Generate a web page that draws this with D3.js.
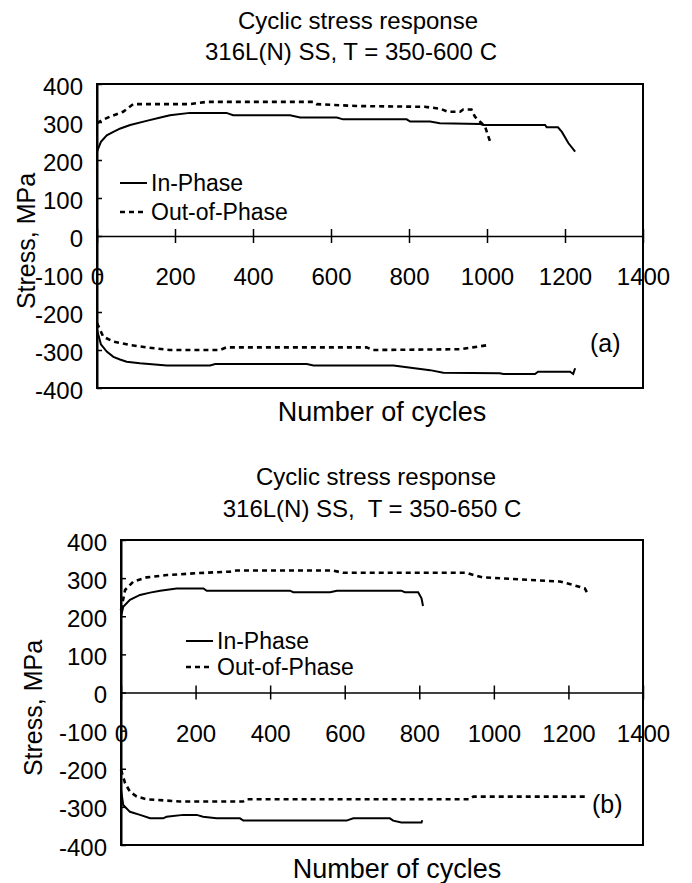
<!DOCTYPE html>
<html>
<head>
<meta charset="utf-8">
<script src="https://cdn.jsdelivr.net/npm/d3@7/dist/d3.min.js"></script>
<style>
  html, body { margin: 0; padding: 0; background: #fff; }
  svg { display: block; font-family: "Liberation Sans", Arial, sans-serif; }
</style>
</head>
<body>
<svg id="chart" width="692" height="883"></svg>
<script>
// ---------- data ----------
const xTicks = [0, 200, 400, 600, 800, 1000, 1200, 1400];
const yTicks = [-400, -300, -200, -100, 0, 100, 200, 300, 400];
const seriesNames = ["In-Phase", "Out-of-Phase"];

// Panel (a): 316L(N) SS, T = 350-600 C   [cycles, stress MPa]
const aInPhaseMax = [[0,222],[10,248],[25,265],[42,274],[60,283],[85,292],[127,303],[160,311],[187,318],[238,324],[332,324],[349,318],[495,318],[521,312],[615,312],[631,307],[794,307],[803,301],[854,301],[879,297],[982,295],[990,292],[1149,292],[1153,286],[1182,286],[1192,274],[1209,244],[1226,222]];
const aOutPhaseMax = [[0,297],[15,306],[33,314],[67,327],[93,347],[238,347],[281,353],[554,353],[563,347],[666,342],[840,340],[880,335],[900,327],[931,327],[939,333],[960,333],[969,314],[995,288],[1008,248]];
const aInPhaseMin = [[0,-247],[10,-285],[25,-304],[42,-318],[59,-325],[76,-331],[110,-335],[179,-341],[290,-341],[303,-337],[538,-337],[555,-341],[760,-341],[854,-353],[888,-360],[1033,-361],[1042,-363],[1123,-363],[1131,-357],[1213,-357],[1221,-363],[1226,-348]];
const aOutPhaseMin = [[0,-229],[16,-265],[42,-278],[85,-287],[127,-293],[187,-300],[315,-300],[332,-293],[691,-293],[707,-300],[931,-298],[964,-293],[1003,-287]];

// Panel (b): 316L(N) SS, T = 350-650 C
const bInPhaseMax = [[0,199],[6,225],[24,243],[51,256],[78,262],[105,267],[149,273],[221,273],[230,267],[453,267],[462,263],[561,263],[579,267],[752,267],[761,263],[797,263],[806,247],[810,227]];
const bOutPhaseMax = [[0,216],[11,269],[33,291],[69,302],[123,308],[204,313],[292,317],[310,320],[568,320],[595,314],[927,314],[945,308],[971,302],[1177,291],[1213,282],[1244,273],[1253,256]];
const bInPhaseMin = [[0,-255],[6,-295],[24,-313],[51,-321],[78,-330],[113,-330],[122,-326],[167,-321],[203,-321],[220,-326],[256,-330],[319,-330],[328,-336],[605,-336],[623,-330],[721,-330],[730,-336],[752,-341],[806,-341],[808,-335]];
const bOutPhaseMin = [[0,-203],[11,-238],[24,-260],[42,-273],[69,-280],[158,-286],[327,-286],[337,-280],[935,-280],[945,-273],[1249,-273],[1253,-270]];

const titleLine1 = "Cyclic stress response";
const titleA = "316L(N) SS, T = 350-600 C";
const titleB = "316L(N) SS,  T = 350-650 C";
const xLabel = "Number of cycles";
const yLabel = "Stress, MPa";

// ---------- drawing ----------
const svg = d3.select("#chart");
const FONT = 24;
const plainFmt = d => String(d);

function panel(cfg) {
  const x = d3.scaleLinear().domain([0, 1400]).range([cfg.left, cfg.right]);
  const y = d3.scaleLinear().domain([-400, 400]).range([cfg.bottom, cfg.top]);
  const g = svg.append("g");

  // titles
  g.append("text").attr("x", cfg.t1x).attr("y", cfg.t1y).attr("text-anchor", "middle")
    .attr("font-size", FONT).text(titleLine1);
  g.append("text").attr("x", cfg.t2x).attr("y", cfg.t2y).attr("text-anchor", "middle")
    .style("white-space", "pre").attr("font-size", FONT).text(cfg.title);

  // frame
  g.append("rect").attr("x", cfg.left).attr("y", cfg.top)
    .attr("width", cfg.right - cfg.left).attr("height", cfg.bottom - cfg.top)
    .attr("fill", "none").attr("stroke", "#000").attr("stroke-width", 2);

  // y axis (inside ticks)
  const ya = g.append("g").attr("transform", `translate(${cfg.left},0)`)
    .call(d3.axisLeft(y).tickValues(yTicks).tickFormat(plainFmt)
      .tickSizeInner(-5).tickSizeOuter(0).tickPadding(14));
  ya.select(".domain").attr("stroke-width", 2);
  ya.selectAll(".tick line").attr("stroke-width", 1.5);
  ya.selectAll(".tick text").attr("font-size", FONT).attr("font-family", "Liberation Sans, Arial, sans-serif")
    .attr("fill", "#000").attr("dy", "0.42em");

  // x axis along zero (cross ticks)
  const xa = g.append("g").attr("transform", `translate(0,${y(0)})`)
    .call(d3.axisBottom(x).tickValues(xTicks).tickFormat(plainFmt).tickSizeInner(7).tickSizeOuter(0));
  xa.select(".domain").attr("stroke-width", 1.5);
  xa.selectAll(".tick line").attr("y1", -7).attr("y2", 7).attr("stroke-width", 1.5);
  xa.selectAll(".tick text").attr("font-size", FONT).attr("font-family", "Liberation Sans, Arial, sans-serif")
    .attr("fill", "#000").attr("y", 49).attr("dy", 0);

  // axis titles
  g.append("text").attr("x", cfg.xlx).attr("y", cfg.xly).attr("text-anchor", "middle")
    .attr("font-size", 27).text(xLabel);
  g.append("text").attr("transform", `translate(${cfg.ylx},${cfg.yly}) rotate(-90)`)
    .attr("text-anchor", "middle").attr("dy", "0.35em").attr("font-size", 25).text(yLabel);

  // lines
  const line = d3.line().x(d => x(d[0])).y(d => y(d[1]));
  const styles = {
    solid: { dash: null, w: 2 },
    dashed: { dash: "5,4", w: 2.6 }
  };
  cfg.series.forEach(s => {
    const st = styles[s.style];
    g.append("path").datum(s.data).attr("d", line)
      .attr("fill", "none").attr("stroke", "#000").attr("stroke-width", st.w)
      .attr("stroke-dasharray", st.dash);
  });

  // legend
  const lg = g.append("g");
  seriesNames.forEach((name, i) => {
    const ly = cfg.legY + i * cfg.legGap;
    lg.append("line").attr("x1", cfg.legX).attr("x2", cfg.legX + 27)
      .attr("y1", ly).attr("y2", ly).attr("stroke", "#000")
      .attr("stroke-width", i === 0 ? 2 : 2.6).attr("stroke-dasharray", i === 0 ? null : "5,4");
    lg.append("text").attr("x", cfg.legX + 31).attr("y", ly).attr("dy", "0.36em")
      .attr("font-size", 23).text(name);
  });

  // panel tag
  g.append("text").attr("x", cfg.tagX).attr("y", cfg.tagY).attr("font-size", 25).text(cfg.tag);
}

panel({
  left: 97, right: 643, top: 84, bottom: 388,
  t1x: 358, t1y: 29, t2x: 351, t2y: 60, title: titleA,
  xlx: 382, xly: 421, ylx: 26, yly: 241,
  legX: 120, legY: 183, legGap: 29,
  tag: "(a)", tagX: 590, tagY: 352,
  series: [
    { data: aInPhaseMax, style: "solid" },
    { data: aInPhaseMin, style: "solid" },
    { data: aOutPhaseMax, style: "dashed" },
    { data: aOutPhaseMin, style: "dashed" }
  ]
});

panel({
  left: 121, right: 643, top: 540, bottom: 845,
  t1x: 376, t1y: 485, t2x: 372, t2y: 517, title: titleB,
  xlx: 397, xly: 878, ylx: 33, yly: 708,
  legX: 186, legY: 641, legGap: 26,
  tag: "(b)", tagX: 592, tagY: 813,
  series: [
    { data: bInPhaseMax, style: "solid" },
    { data: bInPhaseMin, style: "solid" },
    { data: bOutPhaseMax, style: "dashed" },
    { data: bOutPhaseMin, style: "dashed" }
  ]
});
</script>
</body>
</html>
